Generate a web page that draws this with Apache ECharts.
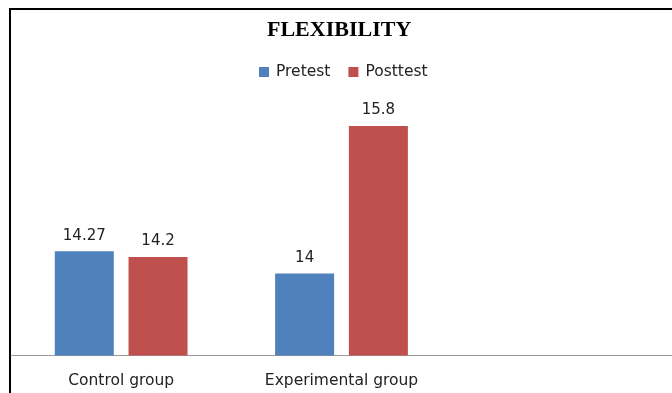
<!DOCTYPE html>
<html>
<head>
<meta charset="utf-8">
<script src="https://cdn.jsdelivr.net/npm/echarts@6/dist/echarts.min.js"></script>
<style>
  html, body { margin: 0; padding: 0; background: #fff; }
  #chart { width: 672px; height: 393px; }
</style>
</head>
<body>
<div id="chart"></div>
<script>
const categories = ['Control group', 'Experimental group', '']
const pretest = [14.27, 14, null]
const posttest = [14.2, 15.8, null]

const chart = echarts.init(document.getElementById('chart'))

const labelStyle = {
  show: true,
  position: 'top',
  distance: 8,
  color: '#222',
  fontFamily: 'DejaVu Sans',
  fontSize: 15
}

chart.setOption({
  animation: false,
  title: {
    text: 'FLEXIBILITY',
    left: 267,
    top: 19,
    padding: 0,
    textStyle: {
      fontFamily: 'Liberation Serif',
      fontWeight: 'bold',
      fontSize: 22,
      color: '#000'
    }
  },
  legend: {
    left: 259,
    top: 64,
    padding: 0,
    itemWidth: 10,
    itemHeight: 10,
    itemGap: 18,
    icon: 'rect',
    textStyle: {
      fontFamily: 'DejaVu Sans',
      fontSize: 15.5,
      color: '#222',
      padding: [0, 0, 0, 2]
    },
    data: ['Pretest', 'Posttest']
  },
  graphic: [{
    type: 'polyline',
    shape: { points: [[10, 393], [10, 9], [672, 9]] },
    style: { stroke: '#000', lineWidth: 2, fill: null }
  }],
  grid: {
    left: 11,
    right: 0,
    top: 109.5,
    bottom: 37.5
  },
  xAxis: {
    type: 'category',
    data: categories,
    axisTick: { show: false },
    axisLine: { lineStyle: { color: '#999', width: 1 } },
    axisLabel: {
      margin: 17,
      color: '#222',
      fontFamily: 'DejaVu Sans',
      fontSize: 15.5
    }
  },
  yAxis: {
    type: 'value',
    min: 13,
    max: 16,
    show: false
  },
  series: [{
    name: 'Pretest',
    type: 'bar',
    data: pretest,
    barWidth: 59,
    barGap: '25%',
    itemStyle: { color: '#4F81BD' },
    label: labelStyle
  }, {
    name: 'Posttest',
    type: 'bar',
    data: posttest,
    barWidth: 59,
    barGap: '25%',
    itemStyle: { color: '#C0504D' },
    label: labelStyle
  }]
})
</script>
</body>
</html>
